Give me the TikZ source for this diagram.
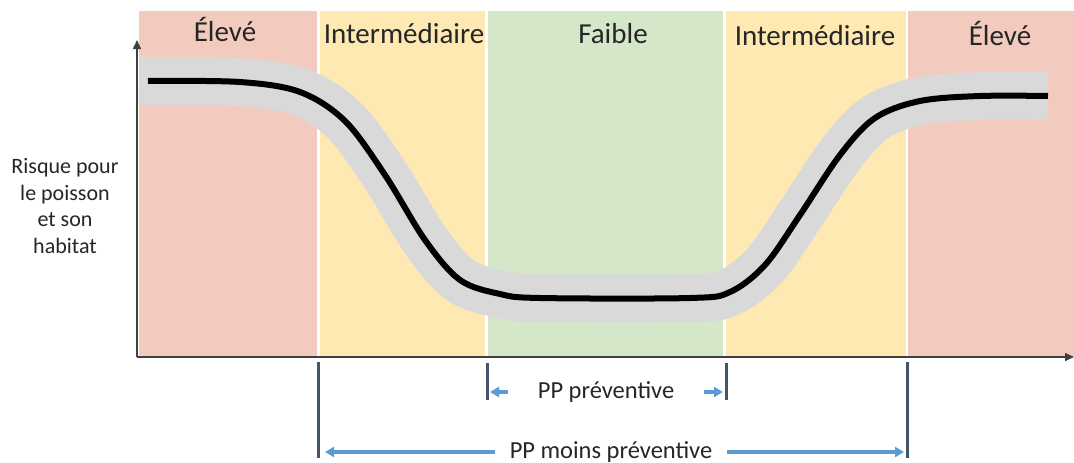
\documentclass[tikz,border=0pt]{standalone}
\usepackage{fontspec}
\setmainfont{Carlito}
\usetikzlibrary{arrows.meta, positioning}

\definecolor{zoneHigh}{HTML}{F2CBBE}
\definecolor{zoneMid}{HTML}{FFE9B2}
\definecolor{zoneLow}{HTML}{D5E7C9}
\definecolor{bandGray}{HTML}{D9D9D9}
\definecolor{barSlate}{HTML}{44546A}
\definecolor{arrBlue}{HTML}{5B9BD5}
\definecolor{txtDark}{HTML}{262626}

\begin{document}
\begin{tikzpicture}[
        x=1pt, y=-1pt,
        >=Stealth,
        zlbl/.style={font=\fontsize{29}{32}\selectfont, text=txtDark, anchor=base, inner sep=0pt},
        ylbl/.style={font=\fontsize{22}{26.7}\selectfont, text=txtDark, align=center, inner sep=0pt},
        span/.style={font=\fontsize{24.5}{28}\selectfont, text=txtDark, inner ysep=0pt},
        axis/.style={draw=black!75, line width=1.5pt, -{Triangle[length=9pt, width=8pt]}},
        marker/.style={draw=barSlate, line width=3pt},
        arr/.style={draw=arrBlue, line width=3.5pt, -{Triangle[length=9pt, width=10pt]}, shorten >=3pt},
        risk/.style={line width=6pt, draw=black},
        halo/.style={line width=48pt, draw=bandGray}
    ]

    \useasboundingbox (0,0) rectangle (1074,463);

    % Risk zones
    \fill[zoneHigh] (139,11)   rectangle (317,357);
    \fill[zoneMid]  (319.5,11) rectangle (485,357);
    \fill[zoneLow]  (488,11)   rectangle (723,357);
    \fill[zoneMid]  (726,11)   rectangle (905.5,357);
    \fill[zoneHigh] (908,11)   rectangle (1074,357);

    \node[zlbl] (hiL)  at (225,41)  {Élevé};
    \node[zlbl] (midL) at (404,43)  {Intermédiaire};
    \node[zlbl] (low)  at (613,43)  {Faible};
    \node[zlbl] (midR) at (815,45)  {Intermédiaire};
    \node[zlbl] (hiR)  at (1000,45) {Élevé};

    % Risk curve with its grey envelope
    \draw[halo] plot[smooth, tension=0.55] coordinates {(142,81) (148,81) (240,82) (300,92) (345,121)
        (385,175) (425,240) (460,280) (500,294) (540,298) (690,298) (730,292) (765,265) (800,215)
        (840,155) (875,118) (920,101) (980,96) (1048,96)};
    \draw[risk] plot[smooth, tension=0.55] coordinates {(148,81) (240,82) (300,92) (345,121)
        (385,175) (425,240) (460,280) (500,294) (540,298) (690,298) (730,292) (765,265) (800,215)
        (840,155) (875,118) (920,101) (980,96) (1048,96)};

    % Axes
    \coordinate (origin) at (137,357);
    \coordinate (ytop)   at (137,40);
    \coordinate (xend)   at (1074,357);
    \draw[axis] (origin) -- (ytop);
    \draw[axis] (origin) -- (xend);

    \node[ylbl] (ytitle) at (65,206) {Risque pour\\le poisson\\et son\\habitat};

    % Markers below the axis
    \coordinate (m1) at (318,362);
    \coordinate (m2) at (487,363);
    \coordinate (m3) at (726,363);
    \coordinate (m4) at (907,362);
    \draw[marker] (m1) -- ++(0,96);
    \draw[marker] (m2) -- ++(0,37);
    \draw[marker] (m3) -- ++(0,37);
    \draw[marker] (m4) -- ++(0,96);

    % Precaution spans
    \node[span, inner xsep=30pt] (pp)  at (606,392) {PP préventive};
    \node[span, inner xsep=15pt] (ppm) at (611,452) {PP moins préventive};

    \draw[arr] (pp.west)  -- (pp.west -| m2);
    \draw[arr] (pp.east)  -- (pp.east -| m3);
    \draw[arr, shorten >=7pt] (ppm.west) -- (ppm.west -| m1);
    \draw[arr] (ppm.east) -- (ppm.east -| m4);

\end{tikzpicture}
\end{document}
